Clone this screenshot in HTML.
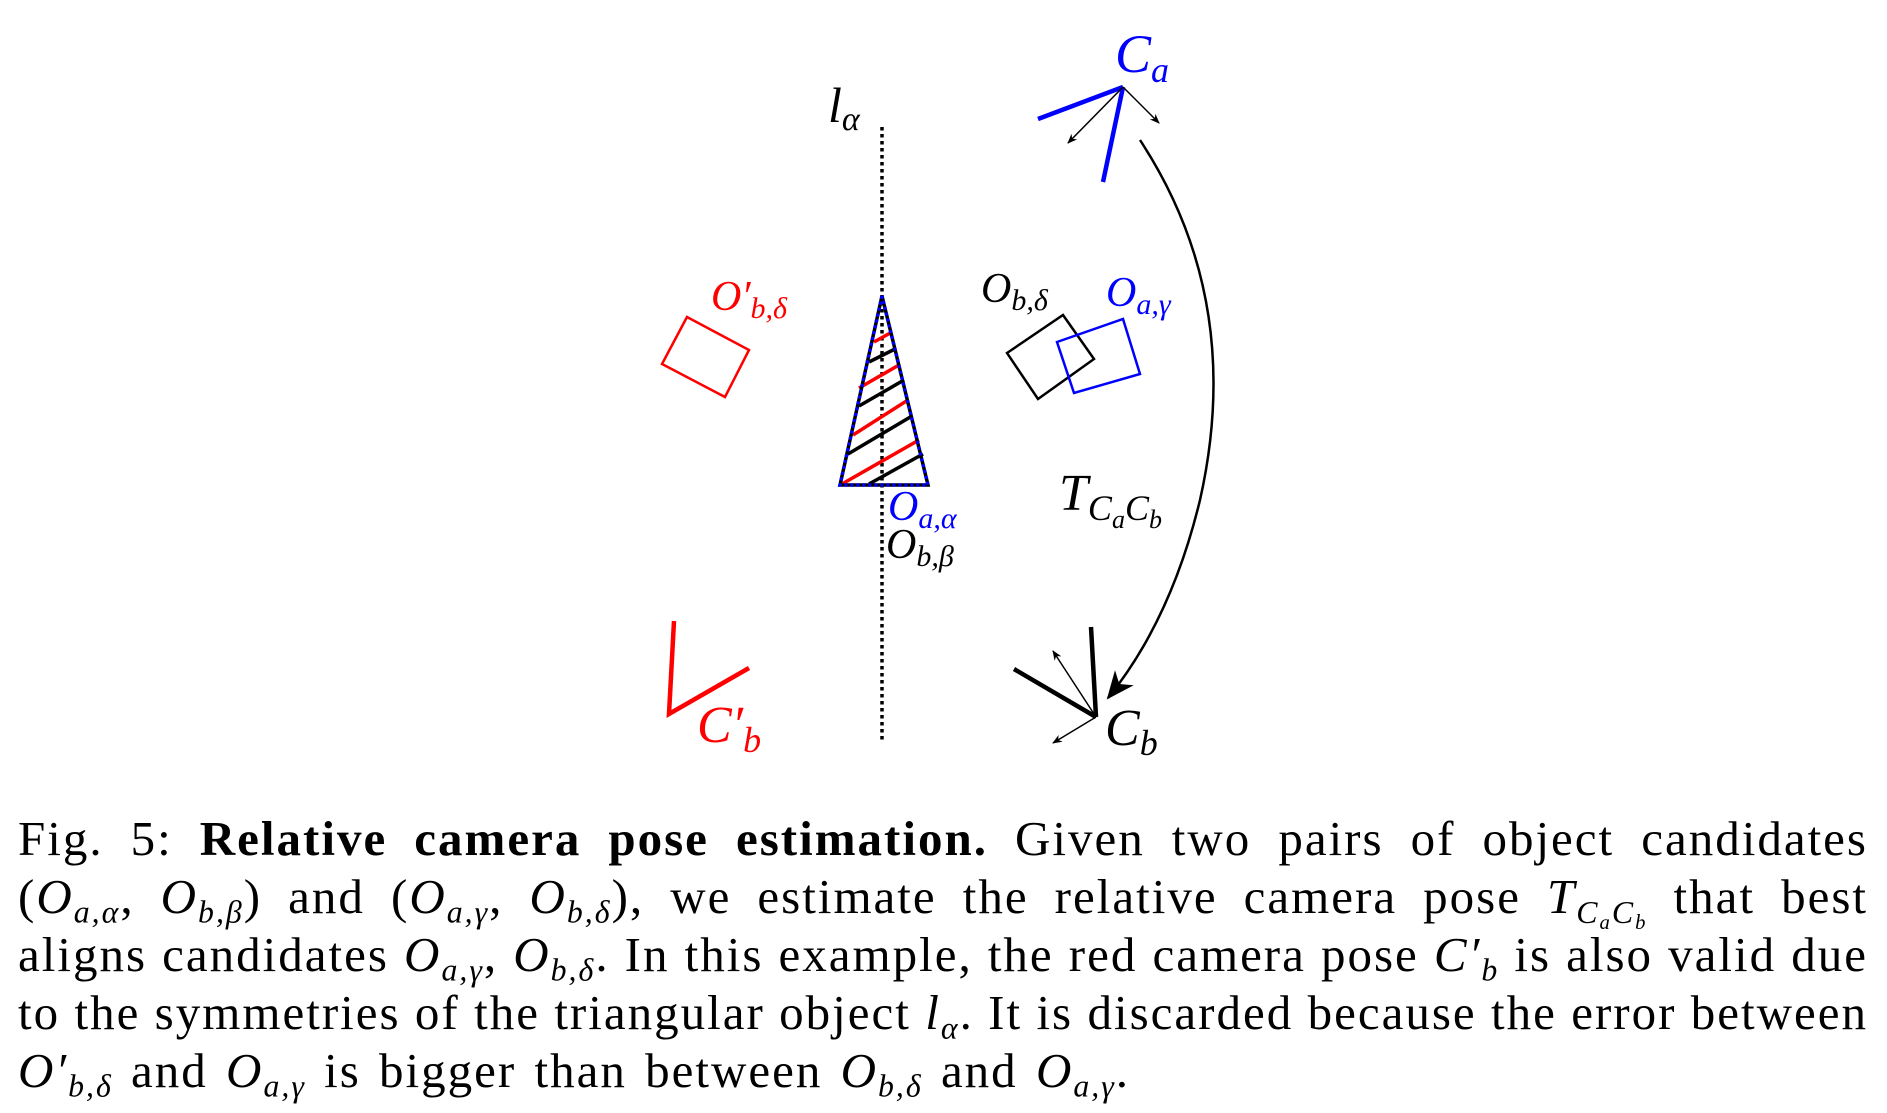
<!DOCTYPE html>
<html><head><meta charset="utf-8"><style>
html,body{margin:0;padding:0;background:#fff;}
body{width:1887px;height:1113px;position:relative;overflow:hidden;font-family:"Liberation Serif",serif;}
svg{position:absolute;left:0;top:0;}
svg text{font-family:"Liberation Serif",serif;font-style:italic;}
#caption{position:absolute;left:18px;top:810px;width:1850px;font-size:49px;line-height:58px;color:#000;letter-spacing:2px;}
#caption .ln{text-align:justify;text-align-last:justify;white-space:nowrap;height:58px;}
#caption .ln.last{text-align-last:left;word-spacing:4px;}
sub{font-size:0.65em;vertical-align:-0.3em;line-height:0;}
</style></head><body>
<svg width="1887" height="800">
<defs>
<marker id="ah" markerWidth="10" markerHeight="8" refX="9" refY="4" orient="auto" markerUnits="userSpaceOnUse"><path d="M0,0 L10,4 L0,8 L3,4z" fill="#000"/></marker>
<marker id="ahb" markerWidth="30" markerHeight="24" refX="26" refY="12" orient="auto" markerUnits="userSpaceOnUse"><path d="M0,0 L28,12 L0,24 L8,12z" fill="#000"/></marker>
</defs>
<g transform="translate(-5,0)">
<g>
<line x1="887" y1="127" x2="887" y2="740" stroke="#000" stroke-width="3.5" stroke-dasharray="3.5,3.5"/>
<text x="833" y="122" font-size="50">l<tspan font-size="34" dy="8">α</tspan></text>
</g>
<g>
<line x1="847" y1="484" x2="924" y2="440" stroke="red" stroke-width="3.5"/>
<line x1="858" y1="435" x2="913" y2="400" stroke="red" stroke-width="3.5"/>
<line x1="864" y1="388" x2="904" y2="365" stroke="red" stroke-width="3.5"/>
<line x1="879" y1="342" x2="897" y2="332" stroke="red" stroke-width="3.5"/>
<line x1="874" y1="484" x2="928" y2="454" stroke="#000" stroke-width="3.5"/>
<line x1="853" y1="454" x2="917" y2="416" stroke="#000" stroke-width="3.5"/>
<line x1="864" y1="406" x2="909" y2="380" stroke="#000" stroke-width="3.5"/>
<line x1="874" y1="362" x2="900" y2="349" stroke="#000" stroke-width="3.5"/>
<polygon points="887,296 845,485 933,485" fill="none" stroke="#000" stroke-width="3.5"/>
<polygon points="887,296 845,485 933,485" fill="none" stroke="blue" stroke-width="3.5" stroke-dasharray="3,3"/>
<text x="893" y="520" font-size="42" fill="blue">O<tspan font-size="30" dy="8">a,α</tspan></text>
<text x="891" y="558" font-size="42">O<tspan font-size="30" dy="8">b,β</tspan></text>
</g>
<g>
<polygon points="692,317 754,350 730,397 667,364" fill="none" stroke="red" stroke-width="2.5"/>
<text x="716" y="310" font-size="42" fill="red">O′<tspan font-size="30" dy="8">b,δ</tspan></text>
</g>
<g>
<polygon points="1012,353 1068,315 1099,359 1043,399" fill="none" stroke="#000" stroke-width="2.5"/>
<text x="986" y="302" font-size="42">O<tspan font-size="30" dy="8">b,δ</tspan></text>
</g>
<g>
<polygon points="1062,342 1128,319 1145,374 1079,393" fill="none" stroke="blue" stroke-width="2.5"/>
<text x="1111" y="306" font-size="42" fill="blue">O<tspan font-size="30" dy="8">a,γ</tspan></text>
</g>
<g>
<line x1="1128" y1="87" x2="1043" y2="119" stroke="blue" stroke-width="4.5"/>
<line x1="1128" y1="87" x2="1108" y2="182" stroke="blue" stroke-width="4.5"/>
<line x1="1128" y1="87" x2="1073" y2="143" stroke="#000" stroke-width="1.5" marker-end="url(#ah)"/>
<line x1="1128" y1="87" x2="1164" y2="123" stroke="#000" stroke-width="1.5" marker-end="url(#ah)"/>
<text x="1120" y="72" font-size="54" fill="blue">C<tspan font-size="36" dy="10">a</tspan></text>
</g>
<g>
<path d="M1145,140 Q1250,300 1205,500 Q1176,620 1113,698" fill="none" stroke="#000" stroke-width="2.5" marker-end="url(#ahb)"/>
<text x="1064" y="510" font-size="52">T<tspan font-size="36" dy="10">C</tspan><tspan font-size="26" dy="8">a</tspan><tspan font-size="36" dy="-8">C</tspan><tspan font-size="26" dy="8">b</tspan></text>
</g>
<g>
<line x1="1101" y1="717" x2="1096" y2="627" stroke="#000" stroke-width="4.5"/>
<line x1="1101" y1="717" x2="1019" y2="669" stroke="#000" stroke-width="4.5"/>
<line x1="1101" y1="717" x2="1058" y2="651" stroke="#000" stroke-width="1.5" marker-end="url(#ah)"/>
<line x1="1101" y1="717" x2="1058" y2="743" stroke="#000" stroke-width="1.5" marker-end="url(#ah)"/>
<text x="1110" y="745" font-size="52">C<tspan font-size="36" dy="10">b</tspan></text>
</g>
<g>
<polyline points="679,621 674,714 754,668" fill="none" stroke="red" stroke-width="4.5"/>
<text x="702" y="742" font-size="52" fill="red">C′<tspan font-size="36" dy="10">b</tspan></text>
</g>
</g>
</svg>
<div id="caption">
<div class="ln">Fig. 5: <b>Relative camera pose estimation.</b> Given two pairs of object candidates</div>
<div class="ln">(<i>O<sub>a,α</sub></i>, <i>O<sub>b,β</sub></i>) and (<i>O<sub>a,γ</sub></i>, <i>O<sub>b,δ</sub></i>), we estimate the relative camera pose <i>T<sub>C<sub>a</sub>C<sub>b</sub></sub></i> that best</div>
<div class="ln">aligns candidates <i>O<sub>a,γ</sub></i>, <i>O<sub>b,δ</sub></i>. In this example, the red camera pose <i>C′<sub>b</sub></i> is also valid due</div>
<div class="ln">to the symmetries of the triangular object <i>l<sub>α</sub></i>. It is discarded because the error between</div>
<div class="ln last"><i>O′<sub>b,δ</sub></i> and <i>O<sub>a,γ</sub></i> is bigger than between <i>O<sub>b,δ</sub></i> and <i>O<sub>a,γ</sub></i>.</div>
</div>
</body></html>
